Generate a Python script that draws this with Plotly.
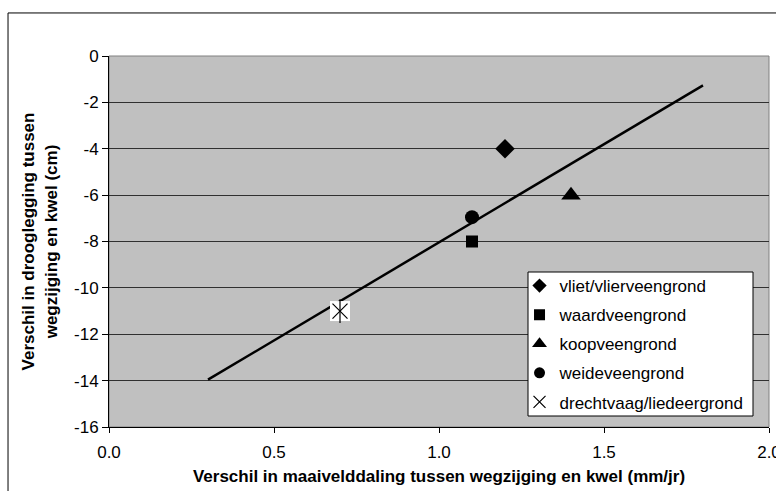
import numpy as np
import plotly.graph_objects as go

# Soil types with their measured differences (subsidence vs. drainage depth)
soil_types = ["vliet/vlierveengrond", "waardveengrond", "koopveengrond",
              "weideveengrond", "drechtvaag/liedeergrond"]
subsidence_diff = [1.2, 1.1, 1.4, 1.1, 0.7]        # mm/jr
drainage_diff = [-4.0, -8.0, -6.0, -6.95, -11.0]   # cm

# Linear trend line drawn over this x-span
trend_x_span = [0.3, 1.8]

x_ticks = [0.0, 0.5, 1.0, 1.5, 2.0]
y_ticks = [0, -2, -4, -6, -8, -10, -12, -14, -16]

FONT = "Liberation Sans, Arial, sans-serif"

fig = go.Figure()

slope, intercept = np.polyfit(subsidence_diff, drainage_diff, 1)
tx = np.array(trend_x_span)
fig.add_trace(go.Scatter(
    x=tx, y=slope * tx + intercept, mode="lines",
    line=dict(color="black", width=2.5), showlegend=False, hoverinfo="skip"))

symbols = ["diamond", "square", "triangle-up", "circle", "x-thin-open"]
sizes = [15, 12, 17, 14, 15]
legend_sizes = [11, 11, 13, 11, 12]

for name, sx, dy, sym, sz, lsz in zip(soil_types, subsidence_diff,
                                       drainage_diff, symbols, sizes, legend_sizes):
    if sym == "x-thin-open":
        # star marker: white square backing, x plus vertical stroke
        fig.add_trace(go.Scatter(
            x=[sx], y=[dy], mode="markers", showlegend=False, hoverinfo="skip",
            marker=dict(symbol="square", size=20, color="white",
                        line=dict(width=0))))
        fig.add_trace(go.Scatter(
            x=[sx], y=[dy], mode="markers", showlegend=False, hoverinfo="skip",
            marker=dict(symbol="line-ns-open", size=17, color="black",
                        line=dict(color="black", width=1.2))))
        fig.add_trace(go.Scatter(
            x=[sx], y=[dy], mode="markers", showlegend=False,
            marker=dict(symbol=sym, size=sz, color="black",
                        line=dict(color="black", width=1.2))))
        mk = dict(symbol=sym, size=lsz, color="black",
                  line=dict(color="black", width=1.2))
    else:
        fig.add_trace(go.Scatter(
            x=[sx], y=[dy], mode="markers", showlegend=False,
            marker=dict(symbol=sym, size=sz, color="black",
                        line=dict(width=0))))
        mk = dict(symbol=sym, size=lsz, color="black", line=dict(width=0))
    # legend entry with a smaller key symbol
    fig.add_trace(go.Scatter(
        x=[None], y=[None], mode="markers", name=name, legendgroup=name,
        marker=mk))

fig.update_layout(
    width=776, height=491,
    margin=dict(l=109, r=7, t=56, b=64, autoexpand=False),
    paper_bgcolor="white",
    plot_bgcolor="#C0C0C0",
    font=dict(family=FONT, size=17, color="black"),
    legend=dict(
        x=0.622, y=0.4286, xanchor="left", yanchor="top",
        bgcolor="rgba(0,0,0,0)", borderwidth=0,
        font=dict(family=FONT, size=17, color="black"),
        tracegroupgap=4, traceorder="grouped",
        itemwidth=30,
    ),
    shapes=[
        # outer chart frame
        dict(type="rect", xref="paper", yref="paper",
             x0=-0.153, y0=-0.3, x1=1.2, y1=1.116,
             line=dict(color="black", width=1), layer="below"),
        # plot area border
        dict(type="rect", xref="paper", yref="paper",
             x0=0, y0=0, x1=1, y1=1,
             line=dict(color="#808080", width=1), layer="below"),
        # legend box
        dict(type="rect", xref="paper", yref="paper",
             x0=(528 - 109) / 660, x1=(753 - 109) / 660,
             y0=(427 - 416) / 371, y1=(427 - 272) / 371,
             fillcolor="white", line=dict(color="black", width=1),
             layer="above"),
    ],
)

fig.update_xaxes(
    range=[0, 2], tickvals=x_ticks, ticktext=[f"{v:.1f}" for v in x_ticks],
    showgrid=False, zeroline=False, automargin=False,
    showline=True, linecolor="black", linewidth=1,
    ticks="outside", ticklen=5, tickcolor="black",
    tickfont=dict(size=17), ticklabeloverflow="allow", ticklabelstandoff=5,
    title=dict(text="<b>Verschil in maaivelddaling tussen wegzijging en kwel (mm/jr)</b>",
               font=dict(size=17), standoff=8),
)
fig.update_yaxes(
    range=[-16, 0], tickvals=y_ticks, ticktext=[str(v) for v in y_ticks],
    showgrid=True, gridcolor="#303030", gridwidth=1, zeroline=False,
    automargin=False,
    showline=True, linecolor="black", linewidth=1,
    ticks="outside", ticklen=6, tickcolor="black",
    tickfont=dict(size=17),
    title=dict(text="<b>Verschil in drooglegging tussen<br>wegzijging en kwel (cm)</b>",
               font=dict(size=17), standoff=12),
)

fig.write_html("out.html")
